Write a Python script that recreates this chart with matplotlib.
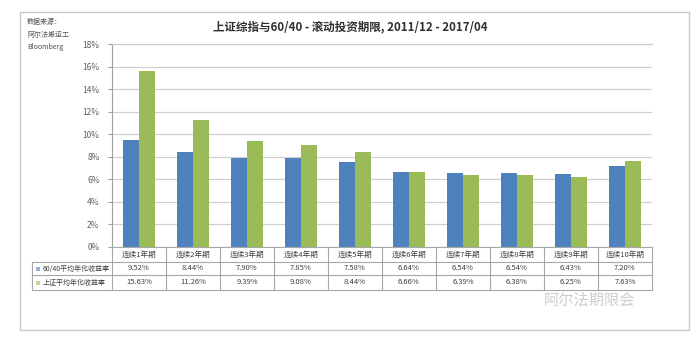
import matplotlib
matplotlib.use('Agg')
import matplotlib.pyplot as plt
from matplotlib.patches import Rectangle
from matplotlib.transforms import blended_transform_factory
import numpy as np

plt.rcParams['font.family'] = ['Noto Sans CJK SC', 'DejaVu Sans']

categories = ['连续1年期', '连续2年期', '连续3年期', '连续4年期', '连续5年期',
              '连续6年期', '连续7年期', '连续8年期', '连续9年期', '连续10年期']
series_names = ['60/40平均年化收益率', '上证平均年化收益率']
balanced = [9.52, 8.44, 7.90, 7.85, 7.58, 6.64, 6.54, 6.54, 6.43, 7.20]
shanghai = [15.63, 11.26, 9.39, 9.08, 8.44, 6.66, 6.39, 6.38, 6.25, 7.63]
yticks = [0, 2, 4, 6, 8, 10, 12, 14, 16, 18]

blue = '#4F81BD'
green = '#9BBB59'
W, H = 699, 337

def fy(py):
    # pixel row -> figure fraction
    return 1 - py / H

fig = plt.figure(figsize=(W / 100, H / 100), dpi=100)
fig.patch.set_facecolor('white')

# outer chart frame
fig.patches.append(Rectangle((20 / W, fy(330)), 669 / W, 318 / H, transform=fig.transFigure,
                             fill=False, edgecolor='#C8C8C8', linewidth=1))

ax = fig.add_axes([112 / W, fy(247), 540 / W, 203 / H])
x = np.arange(len(categories))
bw = 0.3
ax.bar(x - bw / 2, balanced, bw, color=blue, zorder=3)
ax.bar(x + bw / 2, shanghai, bw, color=green, zorder=3)

ax.set_xlim(-0.5, len(categories) - 0.5)
ax.set_ylim(0, 18)
ax.set_yticks(yticks)
ax.set_yticklabels([f'{t}%' for t in yticks], fontsize=6, color='#606060')
ax.set_xticks([])
ax.yaxis.grid(True, color='#D0D0D0', linewidth=0.9, zorder=0)
ax.tick_params(axis='y', length=3, color='#A0A0A0', pad=6)
for s in ['right', 'bottom']:
    ax.spines[s].set_visible(False)
ax.spines['left'].set_color('#A0A0A0')
ax.spines['top'].set_color('#C8C8C8')

# data table under the axis
tr = blended_transform_factory(ax.transData, fig.transFigure)
rows = [247, 262, 275, 290]
lc = '#A8A8A8'
ax.plot([-0.5, 9.5], [fy(rows[0])] * 2, transform=tr, color=lc, lw=0.8, clip_on=False)
for r in rows[1:]:
    fig.add_artist(plt.Line2D([32 / W, 652 / W], [fy(r)] * 2, color=lc, lw=0.8))
fig.add_artist(plt.Line2D([32 / W, 32 / W], [fy(rows[1]), fy(rows[3])], color=lc, lw=0.8))
for i in range(len(categories) + 1):
    ax.plot([i - 0.5] * 2, [fy(rows[0]), fy(rows[3])], transform=tr, color=lc, lw=0.8, clip_on=False)

for i, c in enumerate(categories):
    ax.text(i, fy(254.5), c, transform=tr, ha='center', va='center', fontsize=5.5, color='#404040')
    ax.text(i, fy(268.5), f'{balanced[i]:.2f}%', transform=tr, ha='center', va='center',
            fontsize=5.5, color='#404040')
    ax.text(i, fy(282.5), f'{shanghai[i]:.2f}%', transform=tr, ha='center', va='center',
            fontsize=5.5, color='#404040')

for name, col, py in zip(series_names, [blue, green], [268.5, 282.5]):
    fig.patches.append(Rectangle((36 / W, fy(py + 2)), 4 / W, 4 / H, transform=fig.transFigure,
                                 facecolor=col, edgecolor='none', alpha=0.6))
    fig.text(43 / W, fy(py), name, ha='left', va='center', fontsize=5, color='#404040')

# title and source notes
fig.text(350 / W, fy(27), '上证综指与60/40 - 滚动投资期限, 2011/12 - 2017/04',
         ha='center', va='center', fontsize=8.3, fontweight='bold', color='#303030')
for txt, py in zip(['数据来源：', '阿尔法搬运工', 'Bloomberg'], [22, 35, 47]):
    fig.text(27 / W, fy(py), txt, ha='left', va='center', fontsize=5, color='#505050')

# watermark
fig.text(590 / W, fy(300), '阿尔法期限会', ha='center', va='center', fontsize=11,
         color='#C8C8C8', alpha=0.9)

fig.savefig('out.png', dpi=100)
